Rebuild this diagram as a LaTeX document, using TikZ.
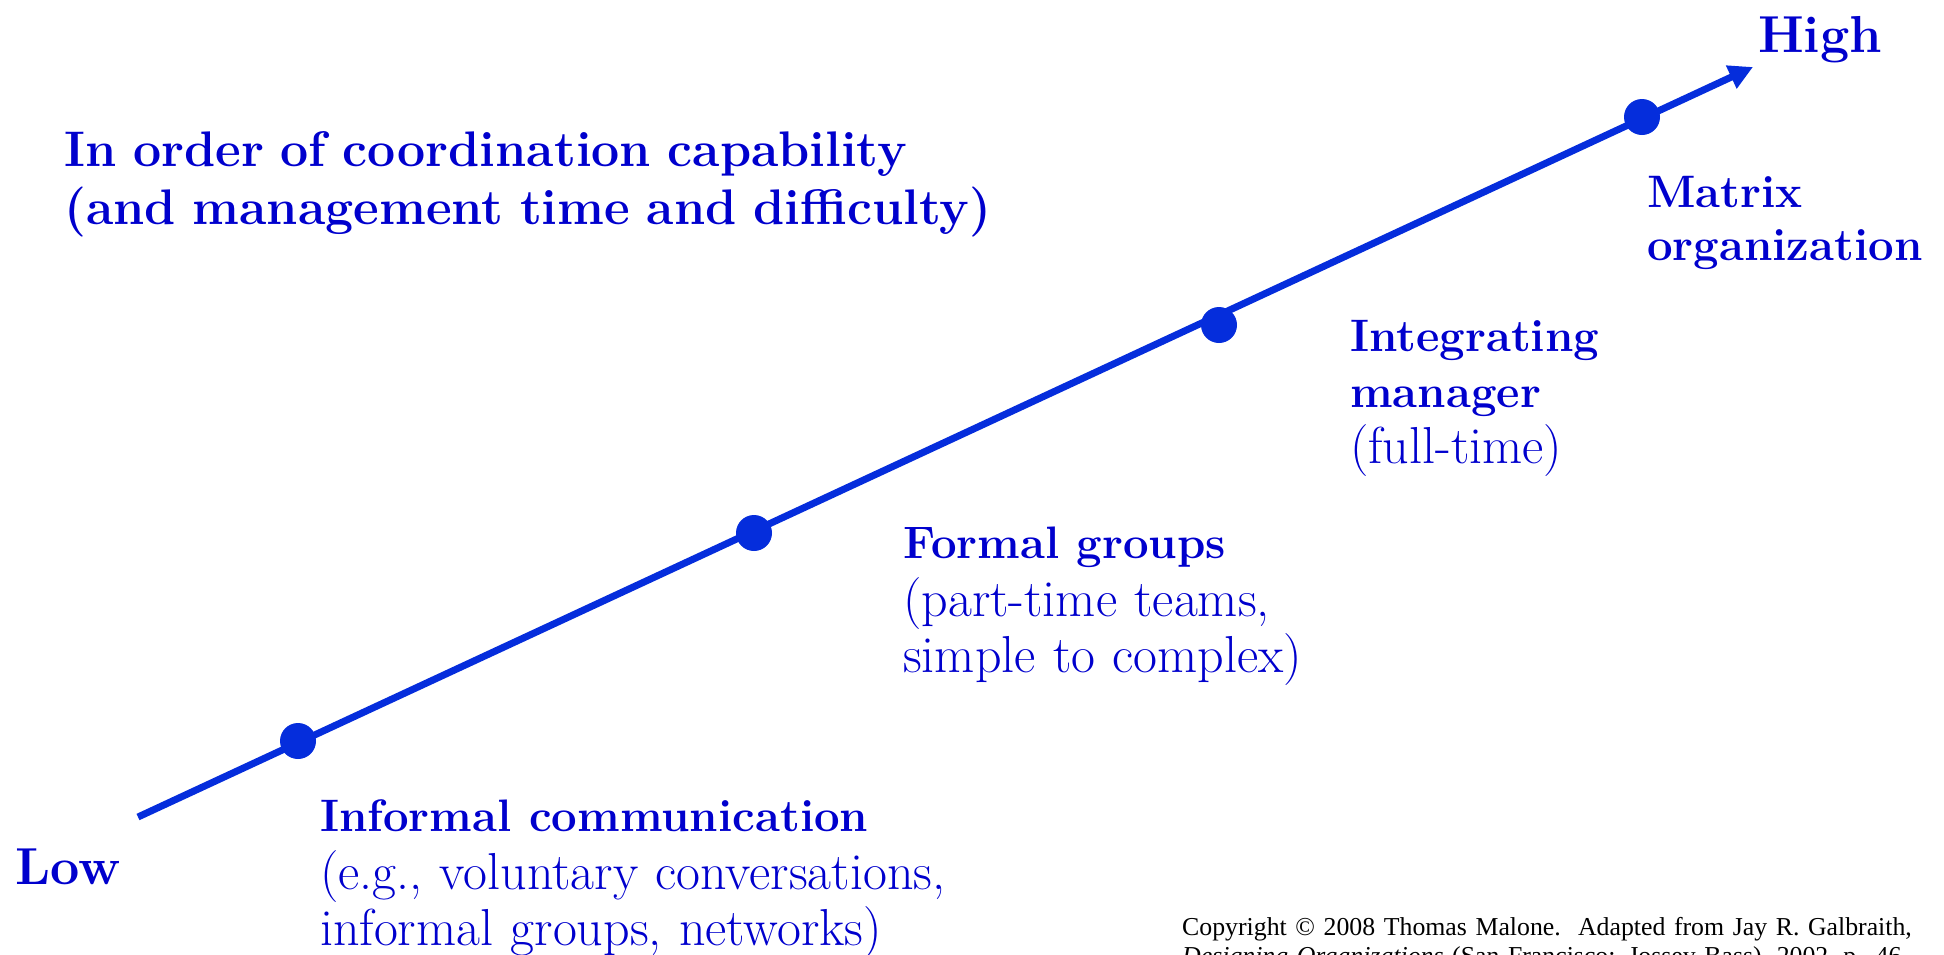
\documentclass[tikz,border=0pt]{standalone}
\usepackage{fontspec}
\newfontfamily\timesfont{Liberation Serif}
\usetikzlibrary{arrows.meta}
\definecolor{txtblue}{RGB}{0,0,205}
\definecolor{lineblue}{RGB}{5,45,220}
\newcommand{\stage}[1]{{\fontsize{45.5}{56}\selectfont\bfseries #1}}

\begin{document}
\begin{tikzpicture}[
  x=1pt, y=-1pt,
  axis/.style={lineblue, line width=7pt, -{Triangle[length=24pt, width=24pt]}},
  dot/.style={circle, fill=lineblue, minimum size=36pt, inner sep=0pt},
  lab/.style={anchor=base west, inner sep=0pt, text=txtblue, align=left,
    text width=700pt, font=\fontsize{52}{56}\selectfont},
  big/.style={lab, font=\fontsize{52}{58}\selectfont\bfseries},
  head/.style={lab, text width=1000pt, font=\fontsize{50}{58}\selectfont\bfseries},
  note/.style={anchor=base west, inner sep=0pt, align=left, text width=800pt,
    font=\timesfont\fontsize{25.8}{29}\selectfont}
]
\useasboundingbox (0,0) rectangle (1944,954);

% Axis from low to high
\coordinate (lo) at (138,817);
\coordinate (hi) at (1753,67);
\draw[axis] (lo) -- (hi);

% Stages on the axis
\node[dot] (d1) at (298,741)  {};
\node[dot] (d2) at (754,533)  {};
\node[dot] (d3) at (1219,325) {};
\node[dot] (d4) at (1642,117) {};

% End labels
\node[big] (low)  at (15,884)  {Low};
\node[big] (high) at (1758,52) {High};

% Heading
\node[head] (title) at (64,166)
  {In order of coordination capability\\(and management time and difficulty)};

% Stage labels
\node[lab] (informal) at (320,831)
  {\stage{Informal communication}\\[2pt](e.g., voluntary conversations,\\informal groups, networks)};
\node[lab] (formal) at (903,558)
  {\stage{Formal groups}\\[2pt](part-time teams,\\simple to complex)};
\node[lab] (integ) at (1350,351)
  {\stage{Integrating}\\\stage{manager}\\(full-time)};
\node[lab] (matrix) at (1647,207)
  {\stage{Matrix}\\[-3pt]\stage{organization}};

% Source note
\node[note] (copy) at (1182,935)
  {Copyright \textcopyright{} 2008 Thomas Malone.\ \ Adapted from Jay R. Galbraith,\\
   \textit{Designing Organizations} (San Francisco: Jossey-Bass), 2002, p. 46.};

\end{tikzpicture}
\end{document}
